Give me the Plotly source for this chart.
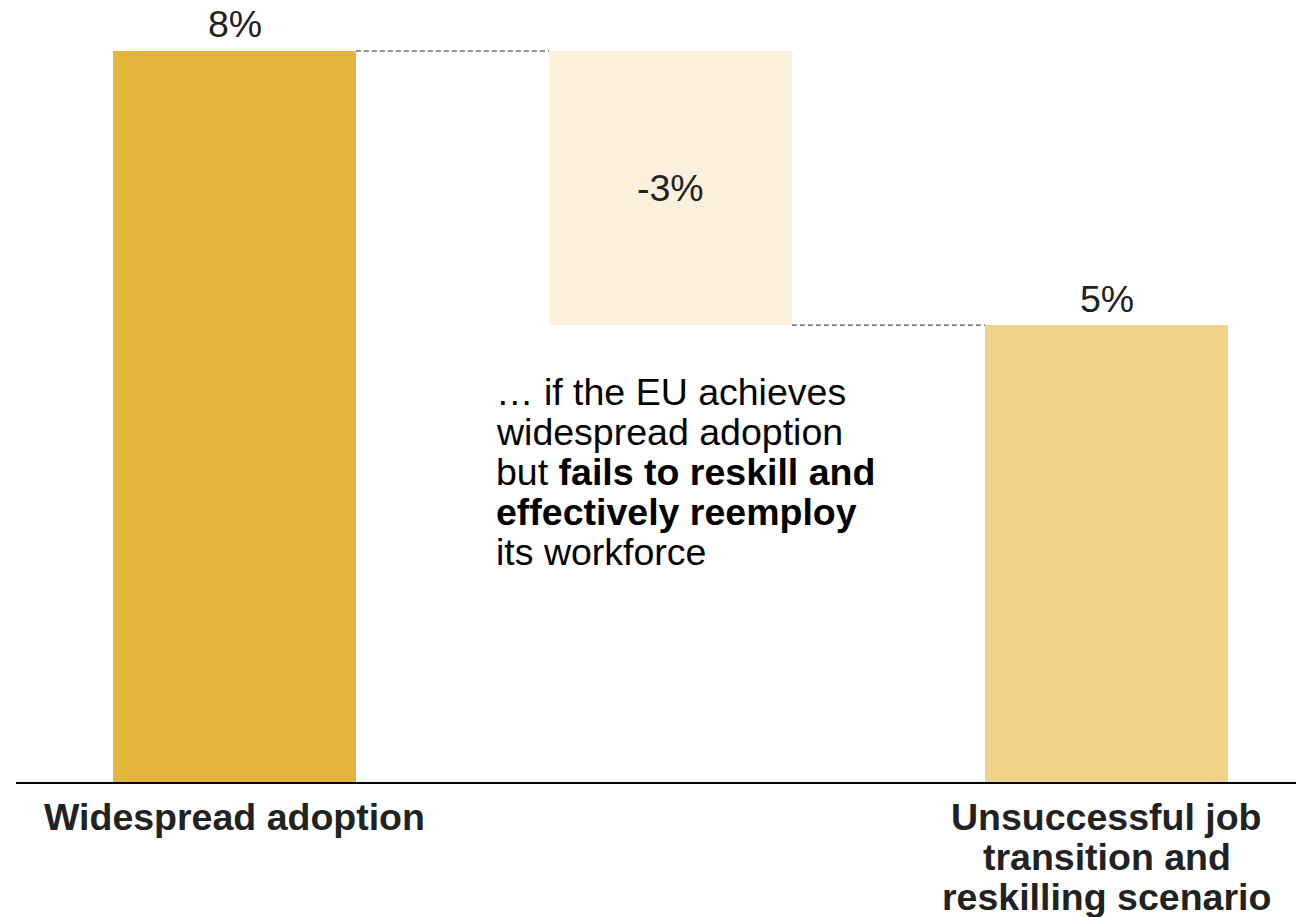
import plotly.graph_objects as go

# ---- data ----
categories = ["Widespread adoption", "", "Unsuccessful job transition and reskilling scenario"]
label_lines = [["Widespread adoption"], [], ["Unsuccessful job", "transition and", "reskilling scenario"]]
values = [8, -3, 5]
bases = [0, 8, 0]
value_labels = ["8%", "-3%", "5%"]
bar_colors = ["#E3B53C", "#FAF0DB", "#EFD38B"]
note_lines = [
    "… if the EU achieves",
    "widespread adoption",
    "but <b>fails to reskill and</b>",
    "<b>effectively reemploy</b>",
    "its workforce",
]

FONT = "Liberation Sans, Arial, sans-serif"
FS = 37.5
BAR_W = 0.557
xs = list(range(len(values)))

fig = go.Figure()
fig.add_trace(go.Bar(
    x=xs, y=values, base=bases, width=BAR_W,
    marker=dict(color=bar_colors, line=dict(width=0)),
    hoverinfo="skip", showlegend=False,
))

# connectors between bars
for i in range(len(values) - 1):
    level = bases[i] + values[i]
    fig.add_trace(go.Scatter(
        x=[xs[i] + BAR_W / 2, xs[i + 1] - BAR_W / 2], y=[level, level],
        mode="lines", line=dict(color="#222222", width=1, dash="5px,3px"),
        hoverinfo="skip", showlegend=False,
    ))

annotations = []
# value labels
for i, (v, b, t) in enumerate(zip(values, bases, value_labels)):
    if v < 0:
        annotations.append(dict(x=xs[i], y=b + v / 2, text=t, showarrow=False,
                                xanchor="center", yanchor="middle",
                                font=dict(family=FONT, size=FS, color="#222222")))
    else:
        annotations.append(dict(x=xs[i], y=b + v, text=t, showarrow=False,
                                xanchor="center", yanchor="middle", yshift=26.5,
                                font=dict(family=FONT, size=FS, color="#222222")))

# category labels
for i, lines in enumerate(label_lines):
    for j, line in enumerate(lines):
        annotations.append(dict(x=xs[i], y=0, text="<b>" + line + "</b>", showarrow=False,
                                xanchor="center", yanchor="middle", yshift=-35 - 40 * j,
                                font=dict(family=FONT, size=FS, color="#222222")))

# explanatory note
for j, line in enumerate(note_lines):
    annotations.append(dict(x=xs[1], y=bases[1] + values[1], text=line, showarrow=False,
                            xanchor="left", yanchor="middle", xshift=-177,
                            yshift=-67 - 40 * j, align="left",
                            font=dict(family=FONT, size=FS, color="#000000")))

fig.update_layout(
    width=1304, height=909,
    margin=dict(l=8, r=8, t=0, b=135),
    paper_bgcolor="white", plot_bgcolor="white",
    bargap=0, showlegend=False,
    annotations=annotations,
    xaxis=dict(range=[-0.50115, 2.45298], showticklabels=False, showgrid=False,
               zeroline=False, showline=True, linecolor="#000000", linewidth=2,
               ticks="", fixedrange=True),
    yaxis=dict(range=[0, 8.4705], visible=False, showgrid=False, zeroline=False,
               fixedrange=True),
)

fig.write_html("out.html", config={"displayModeBar": False})
